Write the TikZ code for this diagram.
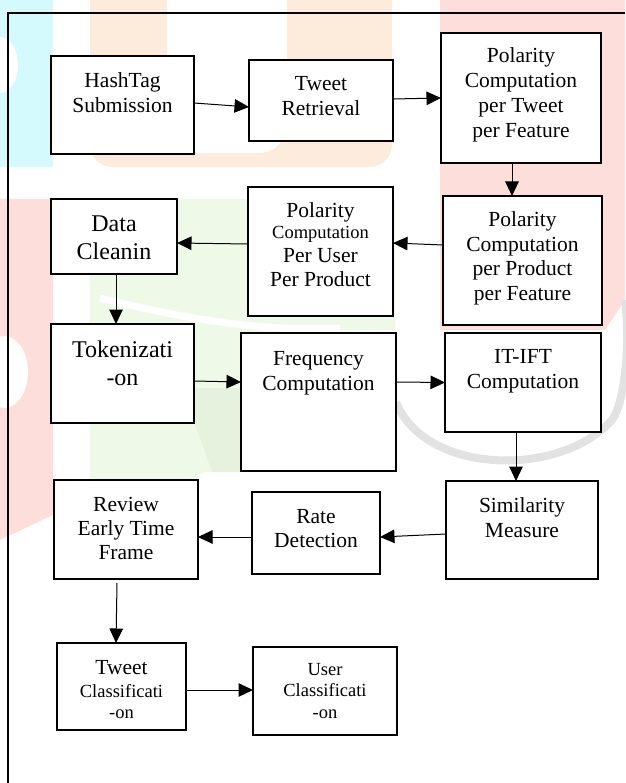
\documentclass[tikz,border=0pt]{standalone}
\usepackage{fontspec}
\setmainfont{Liberation Serif}
\usetikzlibrary{arrows.meta}
\definecolor{wmcyan}{HTML}{D5FAFD}
\definecolor{wmpeach}{HTML}{FDEBDB}
\definecolor{wmpink}{HTML}{FDDEDB}
\definecolor{wmgreen}{HTML}{EFF9E7}
\definecolor{wmgreendk}{HTML}{E6F2DD}
\definecolor{wmgray}{HTML}{E2E2E2}
\newcommand{\fmain}{\fontsize{21.5}{25}\selectfont}
\newcommand{\fbig}{\fontsize{24}{28}\selectfont}
\newcommand{\fsmall}{\fontsize{18.5}{21.5}\selectfont}
\newcommand{\bt}[4]{\parbox[c][#2][t]{#1}{\centering\vspace*{#3}\strut#4}}
\tikzset{
  box/.style={draw=black, line width=2pt, fill=white, inner sep=0pt, outer sep=0pt, font=\fmain},
  conn/.style={line width=1pt, -{Triangle[length=14.5pt,width=13.5pt]}},
  frameline/.style={line width=2pt, black},
}
\begin{document}
\begin{tikzpicture}[x=1pt,y=-1pt]
\useasboundingbox (0,0) rectangle (625,783);
% ---- faint watermark ----
\fill[wmcyan] (0,0) rectangle (53,167);
\fill[white] (0,65) ellipse [x radius=18, y radius=28];
\fill[wmpeach, rounded corners=22pt] (90,-30) -- (392,-30) -- (392,167) -- (90,167) -- cycle;
\fill[white, rounded corners=28pt] (167,-30) -- (287,-30) -- (287,153) -- (167,153) -- cycle;
\fill[wmpink] (440,0) -- (625,0) -- (625,300) -- (605,330) -- (440,330) -- cycle;
\fill[wmpink] (0,199) -- (53,199) -- (53,515) -- (0,540) -- cycle;
\fill[white] (4,372) ellipse [x radius=24, y radius=36];
\fill[wmgreen] (90,199) -- (395,199) -- (395,330) -- (241,332) -- (241,472) -- (205,472) -- (188,480) -- (90,480) -- cycle;
\fill[wmgreendk] (182,388) -- (241,388) -- (241,472) -- (212,472) -- cycle;
\draw[white, line width=7pt] (100,298) .. controls (180,318) and (260,332) .. (340,328);
\draw[wmgray, line width=8pt] (396,402) .. controls (425,475) and (560,478) .. (612,420) .. controls (626,400) and (630,340) .. (625,300);
% ---- frame ----
\draw[frameline] (625,13.5) -- (7.5,13.5) -- (7.5,790);
% ---- boxes ----
\node[box] (hash)   at (122.5,105)   {\bt{143pt}{98pt}{14.5pt}{HashTag\\Submission}};
\node[box] (tweet)  at (321,100.5)   {\bt{144pt}{81pt}{13.5pt}{Tweet\\Retrieval}};
\node[box] (ptweet) at (521,98)      {\bt{160pt}{130pt}{12.5pt}{Polarity\\Computation\\per Tweet\\per Feature}};
\node[box] (pprod)  at (522.5,260.5) {\bt{159pt}{129pt}{13.5pt}{Polarity\\[-0.5pt]Computation\\[-0.5pt]per Product\\[-0.5pt]per Feature}};
\node[box] (puser)  at (320.5,251.5) {\bt{145pt}{129pt}{13.5pt}{Polarity\\[-4pt]{\fsmall Computation}\\[-1pt]Per User\\[-1pt]Per Product}};
\node[box, font=\fbig] (clean) at (114,236.5) {\bt{126pt}{75pt}{13.4pt}{Data\\Cleanin}};
\node[box, font=\fbig] (token) at (122.5,373.5) {\bt{143pt}{99pt}{13.4pt}{Tokenizati\\-on}};
\node[box] (freq)   at (318.5,402)   {\bt{155pt}{138pt}{14.5pt}{Frequency\\Computation}};
\node[box] (itift)  at (523,382.5)   {\bt{156pt}{99pt}{12.5pt}{IT-IFT\\Computation}};
\node[box] (review) at (126,529.5)   {\bt{144pt}{99pt}{13.5pt}{Review\\[-1pt]Early Time\\[-1pt]Frame}};
\node[box] (rate)   at (316,533)     {\bt{128pt}{82pt}{13.5pt}{Rate\\[-1pt]Detection}};
\node[box] (sim)    at (522,530)     {\bt{152pt}{98pt}{13.5pt}{Similarity\\Measure}};
\node[box] (tclass) at (121.5,686.5) {\bt{129pt}{87pt}{13.5pt}{Tweet\\[1.5pt]\fsmall Classificati\\-on}};
\node[box, font=\fsmall] (uclass) at (325,691) {\bt{144pt}{88pt}{13pt}{User\\Classificati\\-on}};
% ---- connectors ----
\draw[conn] ([yshift=2pt]hash.east) -- ([yshift=-6.5pt]tweet.west);
\draw[conn] ([yshift=1.5pt]tweet.east) -- (ptweet.west);
\draw[conn] ([xshift=-9pt]ptweet.south) -- ([xshift=-10.5pt]pprod.north);
\draw[conn] ([yshift=15.5pt]pprod.west) -- ([yshift=8.5pt]puser.east);
\draw[conn] ([yshift=7.5pt]puser.west) -- ([yshift=-6.5pt]clean.east);
\draw[conn] ([xshift=2pt]clean.south) -- ([xshift=-6.5pt]token.north);
\draw[conn] ([yshift=-7.5pt]token.east) -- ([yshift=20pt]freq.west);
\draw[conn] ([yshift=20pt]freq.east) -- (itift.west);
\draw[conn] ([xshift=-7pt]itift.south) -- ([xshift=-6pt]sim.north);
\draw[conn] ([yshift=-4pt]sim.west) -- ([yshift=-4pt]rate.east);
\draw[conn] ([yshift=-4pt]rate.west) -- ([yshift=-7.5pt]review.east);
\draw[conn] ([xshift=-9pt,yshift=-4pt]review.south) -- ([xshift=-5.5pt]tclass.north);
\draw[conn] ([yshift=-3.5pt]tclass.east) -- ([yshift=1pt]uclass.west);
\end{tikzpicture}
\end{document}
